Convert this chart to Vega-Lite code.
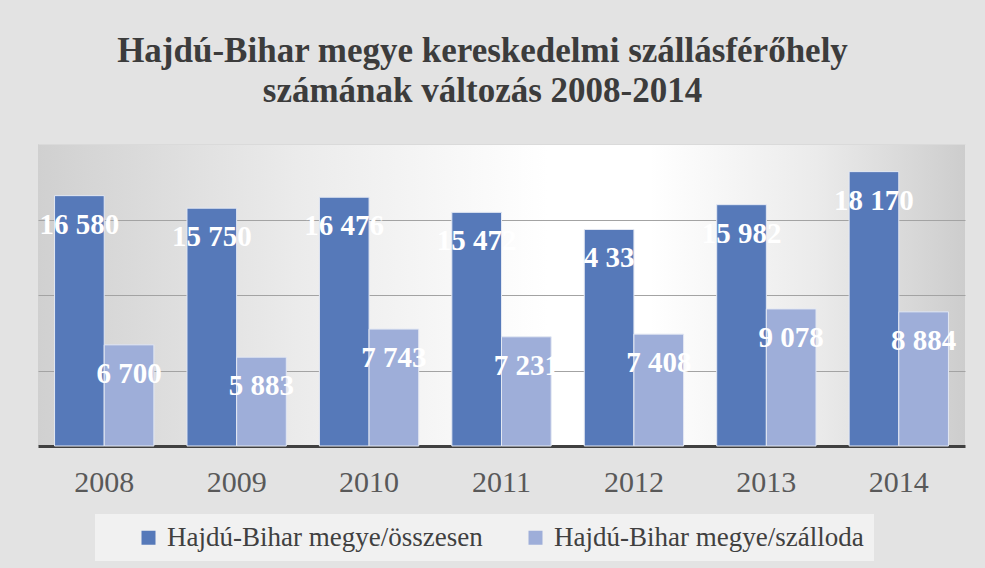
{
  "$schema": "https://vega.github.io/schema/vega-lite/v6.json",
  "autosize": "none",
  "width": 927,
  "height": 302,
  "padding": {"left": 38, "top": 144, "right": 20, "bottom": 122},
  "background": "#e3e3e3",
  "title": {
    "text": ["Hajdú-Bihar megye kereskedelmi szállásférőhely", "számának változás 2008-2014"],
    "font": "Liberation Serif",
    "fontSize": 35,
    "fontWeight": "bold",
    "color": "#3c3c3c",
    "anchor": "middle",
    "frame": "group",
    "dx": -19,
    "offset": 35,
    "lineHeight": 40
  },
  "data": {
    "values": [
      {"year": "2008", "series": "Hajdú-Bihar megye/összesen", "value": 16580},
      {"year": "2009", "series": "Hajdú-Bihar megye/összesen", "value": 15750},
      {"year": "2010", "series": "Hajdú-Bihar megye/összesen", "value": 16476},
      {"year": "2011", "series": "Hajdú-Bihar megye/összesen", "value": 15472},
      {"year": "2012", "series": "Hajdú-Bihar megye/összesen", "value": 14339},
      {"year": "2013", "series": "Hajdú-Bihar megye/összesen", "value": 15982},
      {"year": "2014", "series": "Hajdú-Bihar megye/összesen", "value": 18170},
      {"year": "2008", "series": "Hajdú-Bihar megye/szálloda", "value": 6700},
      {"year": "2009", "series": "Hajdú-Bihar megye/szálloda", "value": 5883},
      {"year": "2010", "series": "Hajdú-Bihar megye/szálloda", "value": 7743},
      {"year": "2011", "series": "Hajdú-Bihar megye/szálloda", "value": 7231},
      {"year": "2012", "series": "Hajdú-Bihar megye/szálloda", "value": 7408},
      {"year": "2013", "series": "Hajdú-Bihar megye/szálloda", "value": 9078},
      {"year": "2014", "series": "Hajdú-Bihar megye/szálloda", "value": 8884}
    ]
  },
  "encoding": {
    "x": {
      "field": "year",
      "type": "nominal",
      "scale": {"paddingInner": 0.25, "paddingOuter": 0.125},
      "axis": {
        "title": null,
        "labelAngle": 0,
        "labelFont": "Liberation Serif",
        "labelFontSize": 30,
        "labelColor": "#595959",
        "ticks": false,
        "labelPadding": 21,
        "domainColor": "#404040",
        "domainWidth": 3,
        "grid": false
      }
    },
    "xOffset": {
      "field": "series",
      "type": "nominal",
      "sort": ["Hajdú-Bihar megye/összesen", "Hajdú-Bihar megye/szálloda"],
      "scale": {"paddingInner": 0}
    },
    "y": {
      "field": "value",
      "type": "quantitative",
      "scale": {"domain": [0, 20000]},
      "axis": {
        "title": null,
        "grid": true,
        "values": [5000, 10000, 15000, 20000],
        "labels": false,
        "ticks": false,
        "domain": false,
        "gridWidth": 1,
        "gridColor": {"condition": {"test": "datum.value == 20000", "value": "#dadada"}, "value": "#a3a3a3"}
      }
    }
  },
  "layer": [
    {
      "mark": {"type": "bar", "stroke": "#e3e8f3", "strokeWidth": 1},
      "encoding": {
        "color": {
          "field": "series",
          "type": "nominal",
          "sort": ["Hajdú-Bihar megye/összesen", "Hajdú-Bihar megye/szálloda"],
          "scale": {"range": ["#5679b9", "#9eaed9"]},
          "legend": {
            "orient": "none",
            "legendX": 57,
            "legendY": 370,
            "direction": "horizontal",
            "title": null,
            "fillColor": "#f1f1f1",
            "padding": 10,
            "symbolType": "square",
            "symbolSize": 196,
            "symbolStrokeWidth": 0,
            "symbolOpacity": 1,
            "symbolOffset": 30,
            "labelFont": "Liberation Serif",
            "labelFontSize": 27,
            "labelColor": "#404040",
            "labelOffset": 5,
            "columnPadding": 9,
            "labelLimit": 0
          }
        }
      }
    },
    {
      "mark": {
        "type": "text",
        "font": "Liberation Serif",
        "fontWeight": "bold",
        "fontSize": 29,
        "color": "#ffffff",
        "baseline": "middle",
        "dy": 29
      },
      "encoding": {
        "text": {"field": "value", "type": "quantitative", "format": ",d"}
      }
    }
  ],
  "config": {
    "locale": {"number": {"decimal": ",", "thousands": " ", "grouping": [3], "currency": ["", " Ft"]}},
    "view": {
      "stroke": null,
      "fill": {
        "gradient": "linear",
        "x1": 0, "y1": 0, "x2": 1, "y2": 0,
        "stops": [
          {"offset": 0, "color": "#d0d0d0"},
          {"offset": 0.28, "color": "#ebebeb"},
          {"offset": 0.55, "color": "#ffffff"},
          {"offset": 0.66, "color": "#ffffff"},
          {"offset": 0.84, "color": "#ebebeb"},
          {"offset": 1, "color": "#cdcdcd"}
        ]
      }
    }
  }
}
